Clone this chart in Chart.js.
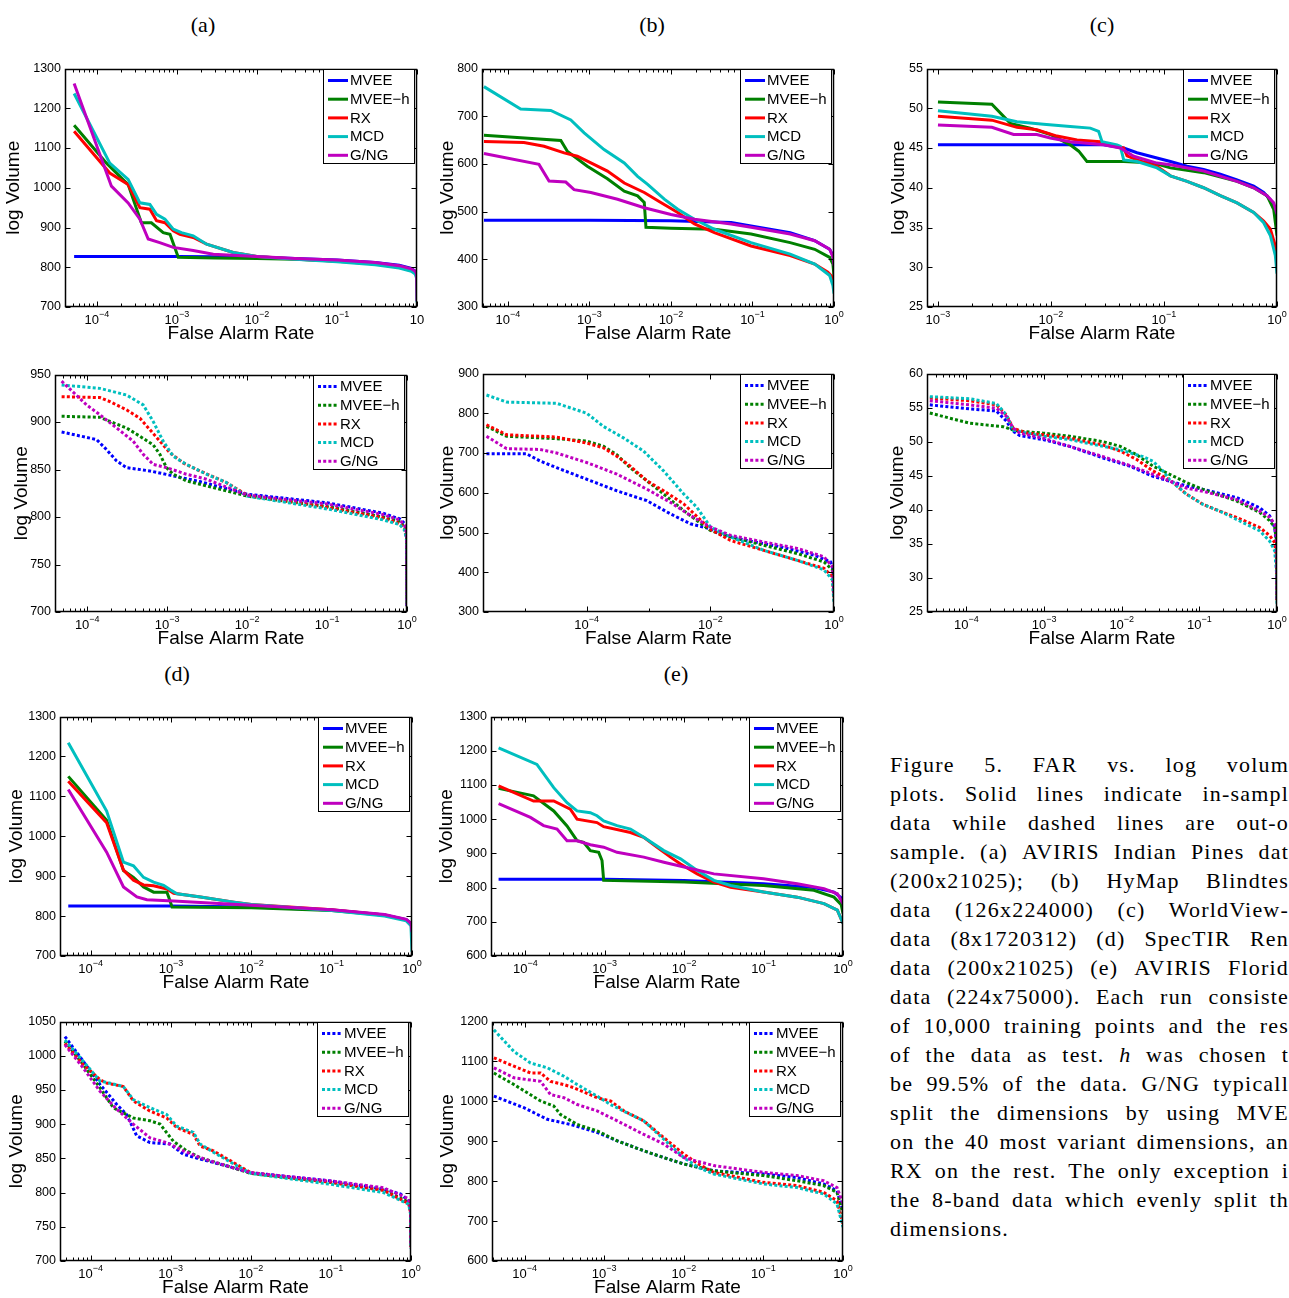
<!DOCTYPE html>
<html><head><meta charset="utf-8">
<script src="https://cdn.jsdelivr.net/npm/chart.js@4.4.0/dist/chart.umd.min.js"></script>
<style>
html,body{margin:0;padding:0;background:#fff;}
body{width:1289px;height:1298px;position:relative;overflow:hidden;}
.lab{position:absolute;font-family:"Liberation Serif",serif;font-size:22px;color:#000;transform:translate(-50%,-50%);white-space:nowrap;}
#cap{position:absolute;left:890px;top:750px;width:399px;font-family:"Liberation Serif",serif;font-size:22px;letter-spacing:1.2px;color:#000;}
.ln{display:flex;justify-content:space-between;height:29px;line-height:29px;white-space:nowrap;}
.ln.last{justify-content:flex-start;}
canvas{position:absolute;}
</style></head><body>
<div class="lab" style="left:203px;top:25px">(a)</div>
<div class="lab" style="left:652px;top:25px">(b)</div>
<div class="lab" style="left:1102px;top:25px">(c)</div>
<div class="lab" style="left:177px;top:674px">(d)</div>
<div class="lab" style="left:676px;top:674px">(e)</div>
<div id="cap"></div>
<script>
// ---------------- DATA ----------------
const SERIES_NAMES = ['MVEE', 'MVEE\u2212h', 'RX', 'MCD', 'G/NG'];

// (a) in-sample
const A_IN_MVEE = [[5.2e-5,827],[1e-3,827],[1e-2,826],[3e-2,822],[0.1,818],[0.3,812],[0.6,805],[0.85,797],[0.95,790],[0.99,782],[1,778]];
const A_IN_MVEEH = [[5.2e-5,1157],[1.32e-4,1062],[2.46e-4,1008],[3.6e-4,912],[4.8e-4,912],[6.75e-4,887],[8.2e-4,883],[1.04e-3,825],[3e-3,823],[1e-2,822],[3e-2,820],[0.1,816],[0.3,810],[0.6,803],[0.85,795],[0.95,788],[0.99,780],[1,775]];
const A_IN_RX = [[5.2e-5,1142],[1.45e-4,1037],[2.46e-4,1008],[3.45e-4,950],[4.6e-4,946],[5.57e-4,917],[7.1e-4,912],[9.0e-4,892],[1.09e-3,883],[1.6e-3,875],[2.35e-3,858],[5.06e-3,837],[1e-2,827],[3e-2,821],[0.1,815],[0.3,808],[0.6,800],[0.85,792],[0.95,786],[0.99,778],[1,772]];
const A_IN_MCD = [[5.2e-5,1237],[1.45e-4,1062],[2.46e-4,1021],[3.45e-4,962],[4.6e-4,958],[5.57e-4,933],[7.1e-4,921],[9.0e-4,896],[1.14e-3,887],[1.6e-3,879],[2.35e-3,858],[5.06e-3,837],[1e-2,827],[3e-2,820],[0.1,814],[0.3,806],[0.6,798],[0.85,790],[0.95,783],[0.99,772],[1,712]];
const A_IN_GNG = [[5.2e-5,1262],[1.52e-4,1004],[2.46e-4,962],[3.45e-4,921],[4.38e-4,871],[6.1e-4,862],[9.0e-4,850],[1.6e-3,842],[2.85e-3,833],[1e-2,827],[3e-2,822],[0.1,818],[0.3,812],[0.6,804],[0.85,796],[0.95,790],[0.99,782],[1,715]];
// (a) out-of-sample
const A_OUT_MVEE = [[4.78e-5,889.5],[1.31e-4,881.5],[1.74e-4,871],[2.33e-4,859],[3.1e-4,852],[6.07e-4,848.5],[1.19e-3,843.3],[2.56e-3,837.3],[1e-2,824],[0.1,815],[0.5,804],[0.81,798],[0.935,793],[0.99,785],[1,706]];
const A_OUT_MVEEH = [[4.78e-5,906],[1.44e-4,905],[1.92e-4,900.6],[3.1e-4,893.7],[4.55e-4,885],[6.68e-4,876],[8.1e-4,866],[9.8e-4,852],[1.19e-3,845],[1.74e-3,838],[1e-2,822],[0.1,811],[0.5,800],[0.81,795],[0.935,789],[0.99,780],[1,706]];
const A_OUT_RX = [[4.78e-5,926.7],[1.44e-4,925.7],[1.92e-4,921.5],[3.1e-4,912.8],[4.55e-4,904],[6.07e-4,892],[8.1e-4,879.8],[1.08e-3,867.6],[1.58e-3,857],[2.56e-3,848.5],[5.5e-3,836.3],[1e-2,823],[0.1,810],[0.5,799],[0.81,793],[0.935,787.6],[0.99,778],[1,706]];
const A_OUT_MCD = [[4.78e-5,939],[1.44e-4,935.4],[3.1e-4,928.4],[5.01e-4,918],[6.68e-4,900.6],[8.9e-4,879.8],[1.19e-3,864],[1.74e-3,855.4],[3.1e-3,845],[5.5e-3,836.3],[1e-2,822],[0.1,808.5],[0.5,797],[0.81,792],[0.935,786],[0.99,775],[1,706]];
const A_OUT_GNG = [[4.78e-5,943],[9.8e-5,918],[1.44e-4,907.6],[2.33e-4,893.7],[3.76e-4,879.8],[5.01e-4,866],[6.68e-4,855.4],[9.8e-4,852],[1.74e-3,845],[3.1e-3,839.8],[1e-2,823],[0.1,813.7],[0.5,802.6],[0.81,797],[0.935,791],[0.99,783],[1,706]];

// (b) in-sample
const B_IN_MVEE = [[5.07e-5,482],[1e-3,482],[1e-2,481],[5.47e-2,477],[9.6e-2,470],[0.29,456],[0.58,439],[0.885,421],[0.97,408],[1,400]];
const B_IN_MVEEH = [[5.07e-5,660],[4.45e-4,649],[5.37e-4,626],[9.4e-4,595],[1.66e-3,569],[2.67e-3,543],[3.89e-3,533],[4.7e-3,519],[4.93e-3,467],[1e-2,465],[3.41e-2,463],[9.6e-2,453],[0.29,435],[0.58,421],[0.885,404],[0.97,390],[1,366]];
const B_IN_RX = [[5.07e-5,647],[1.57e-4,645],[2.77e-4,637],[4.89e-4,623],[7.1e-4,616],[1.04e-3,602],[1.66e-3,585],[2.67e-3,560],[4.7e-3,540],[7.5e-3,519],[1.21e-2,498],[1.94e-2,474],[3.41e-2,456],[9.6e-2,428],[0.29,408],[0.58,390],[0.84,373],[0.97,362],[1,355]];
const B_IN_MCD = [[5.07e-5,762],[1.43e-4,715],[3.35e-4,712],[5.9e-4,692],[8.6e-4,665],[1.51e-3,630],[2.67e-3,602],[3.89e-3,574],[5.17e-3,557],[8.28e-3,526],[1.21e-2,505],[1.94e-2,484],[3.41e-2,463],[9.6e-2,435],[0.29,411],[0.58,390],[0.885,366],[0.97,345],[1,328]];
const B_IN_GNG = [[5.07e-5,622],[2.4e-4,599],[3.19e-4,564],[5.12e-4,562],[6.47e-4,546],[1.04e-3,540],[2.21e-3,526],[4.7e-3,508],[1e-2,494],[1.94e-2,484],[5.47e-2,474],[9.6e-2,467],[0.29,453],[0.58,439],[0.885,421],[0.97,405],[1,387]];
// (b) out-of-sample
const B_OUT_MVEE = [[2.39e-6,698],[1.06e-5,698],[1.75e-5,680],[3.26e-5,663],[1e-4,634],[3.06e-4,605],[9.4e-4,580],[2.25e-3,547],[4.74e-3,522],[1e-2,509],[1.45e-2,495],[3.94e-2,480],[0.136,464],[0.474,443],[0.883,426],[0.97,405],[1,347]];
const B_OUT_MVEEH = [[2.39e-6,767],[5.05e-6,742],[3.26e-5,736],[1e-4,730],[1.86e-4,717],[3.06e-4,696],[5.05e-4,663],[9.4e-4,630],[1.75e-3,597],[3.7e-3,555],[6.08e-3,530],[1e-2,505],[2.11e-2,489],[7.33e-2,468],[0.254,447],[0.689,426],[0.94,406],[1,347]];
const B_OUT_RX = [[2.39e-6,771],[5.05e-6,746],[3.26e-5,740],[1e-4,725],[1.86e-4,713],[3.06e-4,692],[5.05e-4,667],[9.4e-4,630],[1.75e-3,605],[3.7e-3,572],[6.08e-3,540],[1e-2,508],[2.11e-2,480],[7.33e-2,455],[0.254,430],[0.689,410],[0.94,389],[1,331]];
const B_OUT_MCD = [[2.39e-6,846],[5.05e-6,828],[3.26e-5,825],[1e-4,800],[1.86e-4,767],[3.93e-4,738],[8.3e-4,705],[1.75e-3,655],[3.7e-3,597],[6.08e-3,563],[1e-2,514],[1.45e-2,501],[2.11e-2,489],[7.33e-2,455],[0.254,430],[0.689,406],[0.94,381],[1,322]];
const B_OUT_GNG = [[2.39e-6,742],[5.05e-6,711],[1.75e-5,709],[3.26e-5,700],[1e-4,676],[3.06e-4,647],[9.4e-4,609],[2.25e-3,576],[4.74e-3,543],[1e-2,514],[2.11e-2,493],[7.33e-2,476],[0.254,460],[0.689,439],[0.94,414],[1,347]];

// (c) in-sample
const C_IN_MVEE = [[1e-3,45.4],[2.92e-2,45.4],[4.4e-2,45.0],[5.77e-2,44.4],[8.67e-2,43.75],[0.114,43.3],[0.16,42.7],[0.224,42.3],[0.315,41.7],[0.443,41.0],[0.622,40.2],[0.762,39.4],[0.873,38.5],[0.966,37.3],[1,36]];
const C_IN_MVEEH = [[1e-3,50.8],[3.0e-3,50.5],[4.37e-3,48.1],[6.56e-3,47.5],[9.86e-3,46.7],[1.48e-2,45.4],[1.76e-2,44.6],[2.08e-2,43.3],[4.4e-2,43.3],[8.1e-2,43.1],[0.114,42.5],[0.224,41.9],[0.443,40.8],[0.622,40.0],[0.816,39.0],[0.935,37.3],[1,34]];
const C_IN_RX = [[1e-3,49.0],[3.0e-3,48.5],[5.0e-3,47.6],[7.5e-3,47.3],[1.13e-2,46.5],[1.7e-2,46.0],[2.73e-2,45.8],[3.35e-2,45.4],[4.4e-2,45.0],[4.71e-2,44.0],[5.77e-2,43.5],[8.67e-2,42.7],[0.114,41.5],[0.16,40.8],[0.224,40.0],[0.315,39.0],[0.443,38.1],[0.622,36.9],[0.762,35.8],[0.873,34.8],[0.966,32.7],[1,31.5]];
const C_IN_MCD = [[1e-3,49.7],[3.0e-3,49.0],[5.0e-3,48.3],[8.6e-3,48.0],[1.48e-2,47.7],[2.23e-2,47.5],[2.64e-2,47.1],[2.83e-2,45.8],[3.84e-2,45.4],[4.11e-2,45.2],[4.4e-2,43.5],[5.77e-2,43.3],[8.67e-2,42.5],[0.114,41.5],[0.16,40.8],[0.224,40.0],[0.315,39.0],[0.443,38.1],[0.622,36.9],[0.762,35.6],[0.873,34.0],[0.966,31.5],[1,29.2]];
const C_IN_GNG = [[1e-3,47.9],[3.0e-3,47.6],[4.67e-3,46.7],[7.5e-3,46.7],[9.86e-3,46.25],[1.48e-2,45.8],[2.92e-2,45.4],[4.11e-2,45.0],[5.4e-2,43.96],[8.67e-2,43.1],[0.114,42.9],[0.224,42.1],[0.443,40.8],[0.622,40.0],[0.816,39.0],[0.935,38.1],[1,36.7]];
// (c) out-of-sample
const C_OUT_MVEE = [[3.37e-5,55.4],[1.1e-4,54.8],[2.43e-4,54.5],[3.27e-4,53.0],[3.99e-4,51.5],[4.86e-4,50.9],[9.7e-4,50.3],[2.14e-3,49.3],[5.75e-3,47.6],[1.27e-2,46.4],[2.53e-2,44.9],[6.8e-2,43.5],[0.111,43.0],[0.3,41.8],[0.6,40.3],[0.805,39.1],[0.933,37.4],[0.99,34.5],[1,26.7]];
const C_OUT_MVEEH = [[3.37e-5,54.2],[1.1e-4,52.7],[2.96e-4,52.2],[3.99e-4,51.7],[5.37e-4,51.5],[9.7e-4,51.25],[2.14e-3,50.8],[5.75e-3,50.0],[9.6e-3,49.3],[1.55e-2,48.1],[2.53e-2,46.4],[4.15e-2,45.2],[6.8e-2,44.0],[0.111,43.0],[0.3,41.3],[0.6,39.6],[0.805,38.4],[0.933,37.4],[0.99,35.4],[1,26.7]];
const C_OUT_RX = [[3.37e-5,56.4],[1.1e-4,56.0],[2.43e-4,55.4],[3.27e-4,53.9],[3.99e-4,52.0],[5.93e-4,51.25],[9.7e-4,51.0],[2.14e-3,50.5],[5.75e-3,49.5],[9.6e-3,48.6],[1.55e-2,47.4],[2.53e-2,45.7],[4.15e-2,44.4],[6.8e-2,42.3],[0.111,40.8],[0.183,39.8],[0.3,38.9],[0.6,37.4],[0.805,36.2],[0.933,35.2],[0.99,32.5],[1,26.5]];
const C_OUT_MCD = [[3.37e-5,56.6],[1.1e-4,56.3],[2.43e-4,55.6],[3.27e-4,53.9],[3.99e-4,51.7],[5.93e-4,51.25],[9.7e-4,50.8],[2.14e-3,50.3],[5.75e-3,49.3],[9.6e-3,48.8],[1.88e-2,47.8],[2.53e-2,47.1],[3.4e-2,45.7],[4.15e-2,44.4],[6.8e-2,42.3],[0.111,40.8],[0.183,39.8],[0.3,38.6],[0.6,36.9],[0.805,35.4],[0.933,34.0],[0.99,30.6],[1,26.2]];
const C_OUT_GNG = [[3.37e-5,56.0],[1.1e-4,55.4],[2.43e-4,54.9],[3.27e-4,53.7],[3.99e-4,52.0],[4.86e-4,51.25],[9.7e-4,50.5],[2.14e-3,49.3],[5.75e-3,47.8],[1.27e-2,46.5],[2.53e-2,45.2],[6.8e-2,43.2],[0.111,42.7],[0.3,41.5],[0.6,39.8],[0.805,38.9],[0.933,37.9],[0.99,35.4],[1,27]];

// (d) in-sample
const D_IN_MVEE = [[5.26e-5,825],[1e-3,825],[1e-2,823],[0.1,815],[0.455,803],[0.85,791],[0.97,782],[1,775]];
const D_IN_MVEEH = [[5.26e-5,1150],[1.58e-4,1040],[2.56e-4,914],[3.41e-4,897],[4.55e-4,873],[6.07e-4,860],[8.9e-4,860],[9.35e-4,848],[1.03e-3,823],[1e-2,821],[0.1,814],[0.455,802],[0.85,790],[0.97,780],[1,770]];
const D_IN_RX = [[5.26e-5,1138],[1.58e-4,1034],[2.56e-4,915],[3.41e-4,890],[4.55e-4,878],[6.07e-4,876],[8.9e-4,868],[1.08e-3,857],[2.33e-3,848],[6.07e-3,835],[1e-2,829],[0.1,816],[0.455,803],[0.85,790],[0.97,780],[1,772]];
const D_IN_MCD = [[5.26e-5,1234],[1.58e-4,1063],[2.56e-4,935],[3.41e-4,926],[4.55e-4,897],[6.07e-4,885],[8.1e-4,877],[9.8e-4,866],[1.19e-3,856],[2.33e-3,848],[6.07e-3,835],[1e-2,829],[0.1,814],[0.455,800],[0.85,788],[0.97,776],[1,711]];
const D_IN_GNG = [[5.26e-5,1117],[1.58e-4,960],[2.56e-4,873],[3.76e-4,848],[5.01e-4,841],[1.08e-3,838],[2.33e-3,834],[1e-2,827],[0.1,816],[0.455,804],[0.85,792],[0.97,782],[1,760]];
// (d) out-of-sample
const D_OUT_MVEE = [[4.78e-5,1028],[8.1e-5,992],[1.31e-4,958],[2.11e-4,929],[2.82e-4,914],[3.76e-4,883],[5.52e-4,873],[9.8e-4,871],[1.44e-3,856],[2.33e-3,849],[5.01e-3,839],[1e-2,829],[0.1,817],[0.455,805],[0.736,798],[0.935,788],[0.99,774],[1,725]];
const D_OUT_MVEEH = [[4.78e-5,1021],[8.1e-5,987],[1.31e-4,953],[1.92e-4,924],[3.41e-4,909],[5.52e-4,905],[7.36e-4,900],[1.08e-3,875],[1.58e-3,861],[2.33e-3,851],[5.01e-3,839],[1e-2,828],[0.1,815],[0.455,804],[0.935,786],[0.99,772],[1,720]];
const D_OUT_RX = [[4.78e-5,1018],[8.1e-5,987],[1.31e-4,965],[1.58e-4,960],[2.56e-4,955],[3.41e-4,934],[5.52e-4,919],[8.9e-4,909],[1.19e-3,895],[1.92e-3,885],[2.33e-3,868],[3.41e-3,861],[6.07e-3,844],[1e-2,829],[0.1,815],[0.455,803],[0.935,784],[0.99,770],[1,720]];
const D_OUT_MCD = [[4.78e-5,1023],[8.1e-5,992],[1.31e-4,963],[1.58e-4,961],[2.56e-4,955],[3.41e-4,936],[5.52e-4,924],[8.9e-4,914],[1.19e-3,897],[1.92e-3,888],[2.33e-3,871],[3.41e-3,859],[6.07e-3,842],[1e-2,828],[0.1,812],[0.455,800],[0.935,783],[0.99,768],[1,718]];
const D_OUT_GNG = [[4.78e-5,1016],[8.1e-5,982],[1.31e-4,948],[2.11e-4,922],[3.41e-4,900],[5.52e-4,880],[8.9e-4,873],[1.44e-3,861],[2.33e-3,851],[5.01e-3,839],[1e-2,829],[0.1,817],[0.455,807],[0.935,791],[0.99,778],[1,720]];

// (e) in-sample
const E_IN_MVEE = [[4.61e-5,824],[1e-3,824],[1e-2,821],[0.1,811],[0.43,800],[0.77,787],[0.95,770],[1,743]];
const E_IN_MVEEH = [[4.61e-5,1090],[1.27e-4,1068],[2.28e-4,1024],[3.35e-4,980],[4.48e-4,937],[5.43e-4,932],[6.59e-4,908],[8.4e-4,903],[9.25e-4,879],[9.7e-4,821],[1e-2,816],[0.1,806],[0.43,792],[0.77,772],[0.95,750],[1,724]];
const E_IN_RX = [[4.61e-5,1097],[1.27e-4,1053],[2.28e-4,1053],[3.69e-4,1029],[4.48e-4,1000],[8.0e-4,990],[9.7e-4,978],[2.11e-3,961],[3.1e-3,947],[4.57e-3,918],[6.73e-3,889],[9.0e-3,869],[1.46e-2,840],[2.37e-2,816],[3.84e-2,801],[0.1,787],[0.265,772],[0.576,753],[0.849,734],[1,695]];
const E_IN_MCD = [[4.61e-5,1208],[1.4e-4,1160],[2.28e-4,1092],[3.35e-4,1048],[4.48e-4,1024],[6.59e-4,1019],[8.0e-4,1010],[9.7e-4,995],[1.43e-3,981],[2.11e-3,971],[3.1e-3,947],[5.55e-3,908],[9.0e-3,884],[1.46e-2,850],[2.37e-2,821],[3.84e-2,806],[0.1,787],[0.265,772],[0.576,753],[0.849,734],[1,695]];
const E_IN_GNG = [[4.61e-5,1045],[1.16e-4,1005],[1.7e-4,981],[2.51e-4,971],[3.35e-4,937],[4.48e-4,937],[6.59e-4,925],[9.7e-4,918],[1.43e-3,903],[3.1e-3,889],[5.55e-3,874],[1e-2,860],[2.37e-2,840],[0.1,826],[0.265,811],[0.576,797],[0.849,782],[1,753]];
// (e) out-of-sample
const E_OUT_MVEE = [[4.12e-5,1013],[9.8e-5,984],[1.93e-4,955],[3.78e-4,942],[8.17e-4,922],[1.46e-3,901],[3.15e-3,876],[5.61e-3,859],[1e-2,843],[2.38e-2,826],[0.1,818],[0.265,809],[0.571,793],[0.841,776],[1,726]];
const E_OUT_MVEEH = [[4.12e-5,1071],[7.35e-5,1042],[1.59e-4,1001],[2.33e-4,988],[2.83e-4,967],[4.58e-4,942],[8.17e-4,926],[1.46e-3,901],[3.15e-3,876],[5.61e-3,859],[1e-2,843],[2.38e-2,826],[0.1,814],[0.265,801],[0.571,789],[0.841,772],[1,718]];
const E_OUT_RX = [[4.12e-5,1109],[7.35e-5,1088],[1.19e-4,1071],[1.59e-4,1071],[2.12e-4,1050],[3.12e-4,1042],[4.16e-4,1034],[8.17e-4,1009],[1.2e-3,1001],[1.77e-3,976],[3.15e-3,951],[5.61e-3,909],[1e-2,868],[1.53e-2,843],[2.38e-2,822],[0.1,797],[0.265,789],[0.571,772],[0.841,751],[1,693]];
const E_OUT_MCD = [[4.12e-5,1179],[7.35e-5,1125],[1.19e-4,1096],[1.93e-4,1084],[3.12e-4,1063],[4.58e-4,1042],[8.17e-4,1013],[1.2e-3,992],[2.14e-3,967],[3.15e-3,951],[5.61e-3,905],[1e-2,859],[1.53e-2,834],[2.38e-2,818],[0.1,793],[0.265,784],[0.571,768],[0.841,743],[1,685]];
const E_OUT_GNG = [[4.12e-5,1084],[7.35e-5,1059],[1.59e-4,1050],[2.12e-4,1017],[3.12e-4,1009],[4.58e-4,992],[8.17e-4,976],[1.46e-3,951],[3.15e-3,917],[5.61e-3,893],[1e-2,859],[2.38e-2,839],[0.1,822],[0.265,814],[0.571,801],[0.841,784],[1,743]];

// axis ranges: y = [min, max, step]; x = [min FAR, max FAR]; labelled decade exponents
const A_IN_Y = [700, 1300, 100],  A_IN_X = [4e-5, 1],    A_IN_XEXP = [-4, -3, -2, -1, 0];
const A_OUT_Y = [700, 950, 50],   A_OUT_X = [3.95e-5, 1], A_OUT_XEXP = [-4, -3, -2, -1, 0];
const B_IN_Y = [300, 800, 100],   B_IN_X = [4.8e-5, 1],  B_IN_XEXP = [-4, -3, -2, -1, 0];
const B_OUT_Y = [300, 900, 100],  B_OUT_X = [2.1e-6, 1], B_OUT_XEXP = [-4, -2, 0];
const C_IN_Y = [25, 55, 5],       C_IN_X = [8e-4, 1],    C_IN_XEXP = [-3, -2, -1, 0];
const C_OUT_Y = [25, 60, 5],      C_OUT_X = [3.1e-5, 1], C_OUT_XEXP = [-4, -3, -2, -1, 0];
const D_IN_Y = [700, 1300, 100],  D_IN_X = [4.15e-5, 1], D_IN_XEXP = [-4, -3, -2, -1, 0];
const D_OUT_Y = [700, 1050, 50],  D_OUT_X = [4.15e-5, 1], D_OUT_XEXP = [-4, -3, -2, -1, 0];
const E_IN_Y = [600, 1300, 100],  E_IN_X = [3.7e-5, 1],  E_IN_XEXP = [-4, -3, -2, -1, 0];
const E_OUT_Y = [600, 1200, 100], E_OUT_X = [3.9e-5, 1], E_OUT_XEXP = [-4, -3, -2, -1, 0];

const CAPTION_LINES = [
  'Figure 5. FAR vs. log volum',
  'plots. Solid lines indicate in-sampl',
  'data while dashed lines are out-o',
  'sample. (a) AVIRIS Indian Pines dat',
  '(200x21025); (b) HyMap Blindtes',
  'data (126x224000) (c) WorldView-',
  'data (8x1720312) (d) SpecTIR Ren',
  'data (200x21025) (e) AVIRIS Florid',
  'data (224x75000). Each run consiste',
  'of 10,000 training points and the res',
  'of the data as test. *h* was chosen t',
  'be 99.5% of the data. G/NG typicall',
  'split the dimensions by using MVE',
  'on the 40 most variant dimensions, an',
  'RX on the rest. The only exception i',
  'the 8-band data which evenly split th',
  'dimensions.'
];

// ---------------- STYLE / LAYOUT ----------------
const COLORS = ['#0000ff', '#008000', '#ff0000', '#00bfbf', '#bf00bf'];
const FONT = '"Liberation Sans", Arial, Helvetica, sans-serif';
Chart.defaults.font.family = FONT;
Chart.defaults.color = '#000';

const PANELS = [
  {series:[A_IN_MVEE,A_IN_MVEEH,A_IN_RX,A_IN_MCD,A_IN_GNG], y:A_IN_Y, x:A_IN_X, xexp:A_IN_XEXP, dotted:false, L:65, T:67, R:417, B:307, off:52, cutLast:true},
  {series:[B_IN_MVEE,B_IN_MVEEH,B_IN_RX,B_IN_MCD,B_IN_GNG], y:B_IN_Y, x:B_IN_X, xexp:B_IN_XEXP, dotted:false, L:482, T:67, R:834, B:307, off:35},
  {series:[C_IN_MVEE,C_IN_MVEEH,C_IN_RX,C_IN_MCD,C_IN_GNG], y:C_IN_Y, x:C_IN_X, xexp:C_IN_XEXP, dotted:false, L:927, T:67, R:1277, B:307, off:29},
  {series:[A_OUT_MVEE,A_OUT_MVEEH,A_OUT_RX,A_OUT_MCD,A_OUT_GNG], y:A_OUT_Y, x:A_OUT_X, xexp:A_OUT_XEXP, dotted:true, L:55, T:373, R:407, B:612, off:34},
  {series:[B_OUT_MVEE,B_OUT_MVEEH,B_OUT_RX,B_OUT_MCD,B_OUT_GNG], y:B_OUT_Y, x:B_OUT_X, xexp:B_OUT_XEXP, dotted:true, L:483, T:372, R:834, B:612, off:36, decadeOnly:true},
  {series:[C_OUT_MVEE,C_OUT_MVEEH,C_OUT_RX,C_OUT_MCD,C_OUT_GNG], y:C_OUT_Y, x:C_OUT_X, xexp:C_OUT_XEXP, dotted:true, L:927, T:372, R:1277, B:612, off:30},
  {series:[D_IN_MVEE,D_IN_MVEEH,D_IN_RX,D_IN_MCD,D_IN_GNG], y:D_IN_Y, x:D_IN_X, xexp:D_IN_XEXP, dotted:false, L:60, T:715, R:412, B:956, off:44},
  {series:[E_IN_MVEE,E_IN_MVEEH,E_IN_RX,E_IN_MCD,E_IN_GNG], y:E_IN_Y, x:E_IN_X, xexp:E_IN_XEXP, dotted:false, L:491, T:715, R:843, B:956, off:45},
  {series:[D_OUT_MVEE,D_OUT_MVEEH,D_OUT_RX,D_OUT_MCD,D_OUT_GNG], y:D_OUT_Y, x:D_OUT_X, xexp:D_OUT_XEXP, dotted:true, L:60, T:1020, R:411, B:1261, off:44},
  {series:[E_OUT_MVEE,E_OUT_MVEEH,E_OUT_RX,E_OUT_MCD,E_OUT_GNG], y:E_OUT_Y, x:E_OUT_X, xexp:E_OUT_XEXP, dotted:true, L:492, T:1020, R:843, B:1261, off:45}
];
const DOT = [3, 2.2];

const framePlugin = {
  id: 'matlabFrame',
  afterDraw(chart) {
    const p = chart.options.plugins.matlabFrame;
    const {ctx, chartArea: a} = chart;
    const xs = chart.scales.x, ys = chart.scales.y;
    ctx.save();
    ctx.strokeStyle = '#000';
    ctx.lineWidth = 1.5;
    ctx.beginPath();
    const l = Math.round(a.left) + 0.5, r = Math.round(a.right) - 0.5;
    const t = Math.round(a.top) + 0.5, b = Math.round(a.bottom) - 0.5;
    ctx.rect(l, t, r - l, b - t);
    ctx.stroke();
    ctx.beginPath();
    ctx.lineWidth = 1;
    ys.ticks.forEach(tk => {
      const py = Math.round(ys.getPixelForValue(tk.value)) + 0.5;
      ctx.moveTo(l, py); ctx.lineTo(l + 5, py);
      ctx.moveTo(r, py); ctx.lineTo(r - 5, py);
    });
    const lo = Math.floor(Math.log10(xs.min));
    for (let d = lo; d <= 0; d++) {
      for (let m = 1; m <= 9; m++) {
        const v = m * Math.pow(10, d);
        if (v < xs.min * 0.9999 || v > xs.max * 1.0001) continue;
        if (p.decadeOnly && m > 1) continue;
        const major = m === 1 && p.xexp.includes(d);
        const len = major ? 5 : 3;
        const px = Math.round(xs.getPixelForValue(v)) + 0.5;
        ctx.moveTo(px, b); ctx.lineTo(px, b - len);
        ctx.moveTo(px, t); ctx.lineTo(px, t + len);
      }
    }
    ctx.stroke();
    // x tick labels 10^k
    ctx.fillStyle = '#000';
    ctx.textAlign = 'left';
    ctx.textBaseline = 'alphabetic';
    p.xexp.forEach(e => {
      const px = xs.getPixelForValue(Math.pow(10, e));
      const ex = (e < 0 ? '\u2212' : '') + Math.abs(e);
      ctx.font = '13px ' + FONT;
      const wb = ctx.measureText('10').width;
      ctx.font = '9px ' + FONT;
      const showExp = !(p.cutLast && e === 0);
      const we = showExp ? ctx.measureText(ex).width : 0;
      const x0 = px - (wb + we) / 2;
      ctx.font = '13px ' + FONT;
      ctx.fillText('10', x0, a.bottom + 17);
      if (showExp) { ctx.font = '9px ' + FONT; ctx.fillText(ex, x0 + wb, a.bottom + 10); }
    });
    // legend box
    const bw = 92, bh = 95;
    const bx = Math.round(a.right) - 2 - bw, by = Math.round(a.top);
    ctx.fillStyle = '#fff';
    ctx.fillRect(bx, by, bw, bh);
    ctx.strokeStyle = '#000';
    ctx.lineWidth = 1;
    ctx.strokeRect(bx + 0.5, by + 0.5, bw - 1, bh - 1);
    ctx.font = '15px ' + FONT;
    ctx.textBaseline = 'middle';
    SERIES_NAMES.forEach((name, i) => {
      const yy = by + 11.5 + i * 18.7;
      ctx.beginPath();
      ctx.strokeStyle = COLORS[i];
      ctx.lineWidth = 3;
      ctx.setLineDash(p.dotted ? DOT : []);
      ctx.moveTo(bx + 5, yy); ctx.lineTo(bx + 25, yy);
      ctx.stroke();
      ctx.setLineDash([]);
      ctx.fillStyle = '#000';
      ctx.fillText(name, bx + 27, yy + 0.5);
    });
    ctx.restore();
  }
};

PANELS.forEach(p => {
  const yW = Math.round(p.off + 11);
  const xH = 38;
  const w = yW + (p.R - p.L) + 12;
  const h = 10 + (p.B - p.T) + xH;
  const cv = document.createElement('canvas');
  cv.width = w; cv.height = h;
  cv.style.left = (p.L - yW) + 'px';
  cv.style.top = (p.T - 10) + 'px';
  cv.style.width = w + 'px';
  cv.style.height = h + 'px';
  document.body.appendChild(cv);
  const datasets = p.series.map((s, i) => ({
    label: SERIES_NAMES[i],
    data: s.map(([x, y]) => ({x, y})),
    borderColor: COLORS[i],
    backgroundColor: COLORS[i],
    borderWidth: 3,
    borderDash: p.dotted ? DOT : [],
    pointRadius: 0,
    fill: false,
    tension: 0,
    order: 5 - i
  }));
  new Chart(cv, {
    type: 'line',
    data: {datasets},
    plugins: [framePlugin],
    options: {
      responsive: false,
      animation: false,
      devicePixelRatio: 1,
      events: [],
      layout: {padding: {left: 0, top: 10, right: 12, bottom: 0}},
      plugins: {
        legend: {display: false},
        tooltip: {enabled: false},
        matlabFrame: {xexp: p.xexp, dotted: p.dotted, decadeOnly: !!p.decadeOnly, cutLast: !!p.cutLast}
      },
      scales: {
        x: {
          type: 'logarithmic',
          min: p.x[0], max: p.x[1],
          grid: {display: false, drawTicks: false},
          border: {display: false},
          ticks: {display: false},
          title: {display: true, text: 'False Alarm Rate', font: {size: 19}, color: '#000', padding: 0},
          afterFit: s => { s.height = xH; }
        },
        y: {
          type: 'linear',
          min: p.y[0], max: p.y[1],
          grid: {display: false, drawTicks: false},
          border: {display: false},
          ticks: {stepSize: p.y[2], font: {size: 12.5}, color: '#000', padding: 4, autoSkip: false,
                  callback: v => String(v)},
          title: {display: true, text: 'log Volume', font: {size: 19}, color: '#000', padding: 0},
          afterFit: s => { s.width = yW; }
        }
      }
    }
  });
});

// caption
const cap = document.getElementById('cap');
CAPTION_LINES.forEach((line, idx) => {
  const d = document.createElement('div');
  d.className = 'ln' + (idx === CAPTION_LINES.length - 1 ? ' last' : '');
  line.split(' ').forEach(wd => {
    const s = document.createElement('span');
    if (wd.startsWith('*') && wd.endsWith('*')) { s.textContent = wd.slice(1, -1); s.style.fontStyle = 'italic'; }
    else s.textContent = wd;
    d.appendChild(s);
  });
  cap.appendChild(d);
});
</script>
</body></html>
